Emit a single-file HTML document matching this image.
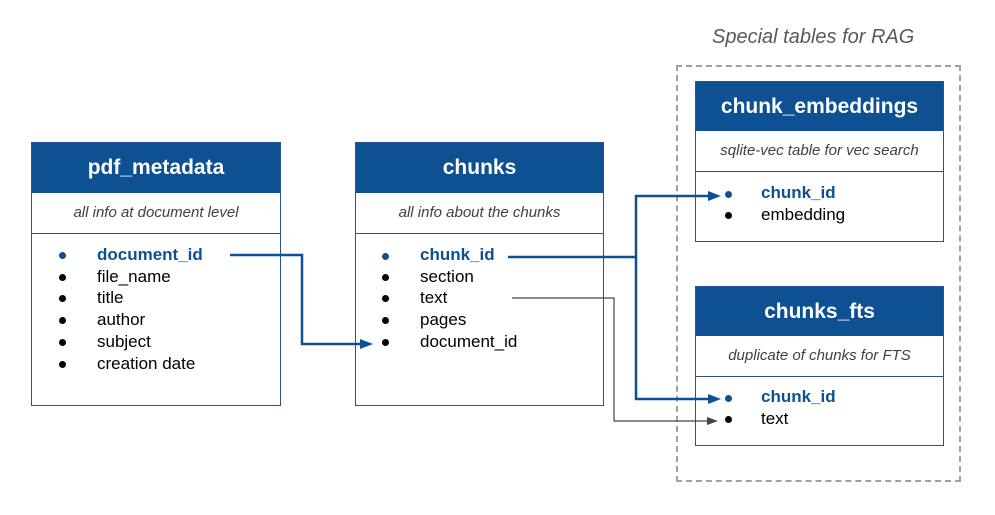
<!DOCTYPE html>
<html><head><style>
body{margin:0;width:995px;height:515px;background:#fff;font-family:"Liberation Sans",Arial,sans-serif;position:relative;overflow:hidden}
.t{position:absolute;border:1.5px solid #2a5193;box-sizing:border-box;background:#fff}
.h{background:#0e5193;color:#fff;font-weight:bold;font-size:21px;text-align:center;box-sizing:border-box}
.s{font-style:italic;color:#404040;font-size:15px;text-align:center;border-bottom:1.5px solid #2a5193;border-top:1.5px solid #2a5193;box-sizing:border-box}
.r{position:absolute;font-size:17px;color:#000;white-space:nowrap}
.k{color:#0e5193;font-weight:bold}
.d{position:absolute;width:7px;height:7px;border-radius:50%;background:#000}
.dk{background:#0e5193}
</style></head><body>
<div style="position:absolute;left:0;width:1640px;top:26px;font-style:italic;color:#595959;font-size:20px;left:712px">Special tables for RAG</div>
<div style="position:absolute;left:676px;top:65px;width:285px;height:417px;border:2px dashed #a0a0a0;box-sizing:border-box"></div>

<div class="t" style="left:31px;top:142px;width:250px;height:264px">
<div class="h" style="height:50px;line-height:50px">pdf_metadata</div>
<div class="s" style="height:41px;line-height:39px;border-top:none">all info at document level</div></div>
<div class="t" style="left:355px;top:142px;width:249px;height:264px">
<div class="h" style="height:50px;line-height:50px">chunks</div>
<div class="s" style="height:41px;line-height:39px;border-top:none">all info about the chunks</div></div>
<div class="t" style="left:695px;top:81px;width:249px;height:161px">
<div class="h" style="height:49px;line-height:49px">chunk_embeddings</div>
<div class="s" style="height:41px;line-height:39px;border-top:none">sqlite-vec table for vec search</div></div>
<div class="t" style="left:695px;top:286px;width:249px;height:160px">
<div class="h" style="height:49px;line-height:49px">chunks_fts</div>
<div class="s" style="height:41px;line-height:39px;border-top:none">duplicate of chunks for FTS</div></div>

<!-- rows pdf -->
<div class="d dk" style="left:59px;top:252px"></div><div class="r k" style="left:97px;top:245px">document_id</div>
<div class="d" style="left:59px;top:274px"></div><div class="r" style="left:97px;top:267px">file_name</div>
<div class="d" style="left:59px;top:295px"></div><div class="r" style="left:97px;top:288px">title</div>
<div class="d" style="left:59px;top:317px"></div><div class="r" style="left:97px;top:310px">author</div>
<div class="d" style="left:59px;top:339px"></div><div class="r" style="left:97px;top:332px">subject</div>
<div class="d" style="left:59px;top:361px"></div><div class="r" style="left:97px;top:354px">creation date</div>
<!-- chunks -->
<div class="d dk" style="left:382px;top:253px"></div><div class="r k" style="left:420px;top:245px">chunk_id</div>
<div class="d" style="left:382px;top:274px"></div><div class="r" style="left:420px;top:267px">section</div>
<div class="d" style="left:382px;top:295px"></div><div class="r" style="left:420px;top:288px">text</div>
<div class="d" style="left:382px;top:317px"></div><div class="r" style="left:420px;top:310px">pages</div>
<div class="d" style="left:382px;top:339px"></div><div class="r" style="left:420px;top:332px">document_id</div>
<!-- emb -->
<div class="d dk" style="left:725px;top:191px"></div><div class="r k" style="left:761px;top:183px">chunk_id</div>
<div class="d" style="left:725px;top:212px"></div><div class="r" style="left:761px;top:205px">embedding</div>
<!-- fts -->
<div class="d dk" style="left:725px;top:395px"></div><div class="r k" style="left:761px;top:387px">chunk_id</div>
<div class="d" style="left:725px;top:416px"></div><div class="r" style="left:761px;top:409px">text</div>

<svg width="995" height="515" style="position:absolute;left:0;top:0">
<g fill="none" stroke="#0e5193" stroke-width="2.5">
<polyline points="230,255 302,255 302,344 362,344"/>
<polyline points="508,257 636,257"/>
<polyline points="710,196 636,196 636,399 710,399"/>
</g>
<polyline points="512,298 614,298 614,421 710,421" fill="none" stroke="#444" stroke-width="1.2"/>
<g fill="#0e5193">
<polygon points="373,344 360,339 360,349"/>
<polygon points="721,196 708,191 708,201"/>
<polygon points="721,399 708,394 708,404"/>
</g>
<polygon points="718,421 707,417 707,425" fill="#444"/>
</svg>
</body></html>
